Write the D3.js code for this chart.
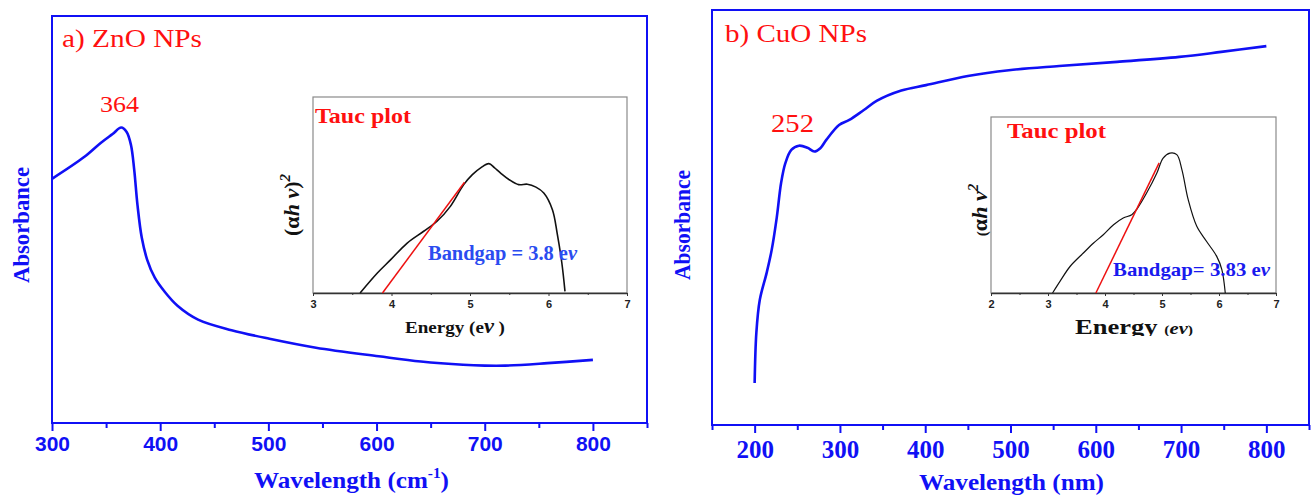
<!DOCTYPE html>
<html>
<head>
<meta charset="utf-8">
<script src="https://cdn.jsdelivr.net/npm/d3@7"></script>
<style>
  body { margin: 0; background: #fff; }
  svg { display: block; }
</style>
</head>
<body>
<div id="chart"></div>
<script>
const width = 1312, height = 499;
const serif = '"Liberation Serif", "Times New Roman", serif';
const sans = '"Liberation Sans", Arial, sans-serif';
const blue = '#1010f5', red = '#ff1010';

// panel a) ZnO : UV-vis spectrum
const znoWavelength = [300, 330, 345, 356, 364, 369, 373, 376, 379, 383, 388, 395, 404, 416, 435, 466, 501, 544, 602, 641, 680, 700, 719, 758, 800];
const znoAbsorbance = [0.600, 0.654, 0.688, 0.710, 0.726, 0.715, 0.683, 0.622, 0.536, 0.455, 0.401, 0.357, 0.323, 0.288, 0.254, 0.228, 0.207, 0.185, 0.164, 0.151, 0.143, 0.141, 0.141, 0.147, 0.155];
// panel b) CuO : UV-vis spectrum
const cuoWavelength = [200, 202, 206, 214, 220, 226, 231, 236, 243, 252, 262, 270, 277, 284, 299, 311, 328, 343, 372, 401, 450, 498, 557, 625, 698, 747, 800];
const cuoAbsorbance = [0.101, 0.222, 0.301, 0.366, 0.422, 0.501, 0.583, 0.631, 0.663, 0.673, 0.668, 0.659, 0.667, 0.687, 0.723, 0.735, 0.759, 0.781, 0.806, 0.819, 0.841, 0.855, 0.865, 0.875, 0.887, 0.899, 0.913];

// Tauc plot insets
const znoEnergy = [3.60, 3.82, 3.99, 4.20, 4.41, 4.58, 4.75, 4.92, 5.03, 5.14, 5.24, 5.31, 5.39, 5.50, 5.62, 5.73, 5.84, 5.94, 6.05, 6.11, 6.17, 6.21];
const znoTauc = [0.0, 0.102, 0.170, 0.255, 0.315, 0.366, 0.442, 0.553, 0.604, 0.640, 0.660, 0.640, 0.612, 0.578, 0.553, 0.555, 0.540, 0.510, 0.425, 0.306, 0.153, 0.008];
const znoFitEnergy = [3.885, 4.93];
const znoFitTauc = [0.0, 0.565];

const cuoEnergy = [3.08, 3.21, 3.39, 3.62, 3.80, 3.97, 4.15, 4.32, 4.47, 4.56, 4.73, 4.91, 5.02, 5.14, 5.26, 5.35, 5.46, 5.61, 5.78, 5.96, 6.05, 6.11];
const cuoTauc = [0.0, 0.066, 0.152, 0.227, 0.284, 0.331, 0.388, 0.426, 0.445, 0.477, 0.568, 0.682, 0.767, 0.795, 0.786, 0.700, 0.530, 0.379, 0.294, 0.208, 0.133, 0.0];
const cuoFitEnergy = [3.84, 4.95];
const cuoFitTauc = [0.0, 0.739];

const znoTicks = [300, 400, 500, 600, 700, 800];
const znoMinor = [350, 450, 550, 650, 750, 850];
const cuoTicks = [200, 300, 400, 500, 600, 700, 800];
const cuoMinor = [150, 250, 350, 450, 550, 650, 750, 850];

var svg = d3.select('#chart').append('svg')
  .attr('width', width)
  .attr('height', height);

// stretched text, the figure was scaled wider than tall
function fitText(parent, str, x, y, w, size, color, family, weight) {
  return parent.append('text')
    .attr('x', x).attr('y', y)
    .attr('textLength', w).attr('lengthAdjust', 'spacingAndGlyphs')
    .style('font-family', family || serif)
    .style('font-size', size + 'px')
    .style('font-weight', weight || 'normal')
    .style('fill', color)
    .text(str);
}

function panel(cfg) {
  var x = d3.scaleLinear().domain(cfg.xDomain).range([cfg.left, cfg.right]);
  var y = d3.scaleLinear().domain([0, 1]).range([cfg.bottom, cfg.top]);
  var g = svg.append('g');

  g.append('rect')
    .attr('x', cfg.left).attr('y', cfg.top)
    .attr('width', cfg.right - cfg.left).attr('height', cfg.bottom - cfg.top)
    .style('fill', 'none').style('stroke', blue).style('stroke-width', 2);

  var major = g.append('g').attr('transform', `translate(0,${cfg.bottom})`)
    .call(d3.axisBottom(x).tickValues(cfg.ticks).tickSize(8).tickSizeOuter(0).tickPadding(cfg.pad));
  major.select('.domain').remove();
  major.selectAll('line').style('stroke', blue).style('stroke-width', 2);
  major.selectAll('text')
    .style('font-family', cfg.tickFont).style('font-weight', 'bold')
    .style('font-size', cfg.tickSize + 'px').style('fill', blue);

  var minor = g.append('g').attr('transform', `translate(0,${cfg.bottom})`)
    .call(d3.axisBottom(x).tickValues(cfg.minor).tickSize(5).tickSizeOuter(0).tickFormat(''));
  minor.select('.domain').remove();
  minor.selectAll('line').style('stroke', blue).style('stroke-width', 2);

  var line = d3.line()
    .x((d, i) => x(cfg.wl[i]))
    .y(d => y(d))
    .curve(d3.curveCatmullRom.alpha(0.5));
  g.append('path').datum(cfg.abs)
    .attr('d', line)
    .style('fill', 'none').style('stroke', blue).style('stroke-width', 2.6)
    .style('stroke-linejoin', 'round');

  g.append('text')
    .attr('transform', `translate(${cfg.absX},${cfg.absY}) rotate(-90)`)
    .attr('text-anchor', 'middle')
    .attr('textLength', cfg.absLen).attr('lengthAdjust', 'spacingAndGlyphs')
    .style('font-family', serif).style('font-weight', 'bold')
    .style('font-size', '24px').style('fill', blue)
    .text('Absorbance');
  return g;
}

function inset(cfg) {
  var x = d3.scaleLinear().domain(cfg.xDomain).range([cfg.left, cfg.right]);
  var y = d3.scaleLinear().domain([0, 1]).range([cfg.bottom, cfg.top]);
  var g = svg.append('g');

  g.append('rect')
    .attr('x', cfg.left).attr('y', cfg.top)
    .attr('width', cfg.right - cfg.left).attr('height', cfg.bottom - cfg.top)
    .style('fill', 'none').style('stroke', '#8a8a8a').style('stroke-width', 1.2);

  var ax = g.append('g').attr('transform', `translate(0,${cfg.bottom})`)
    .call(d3.axisBottom(x).ticks(cfg.xDomain[1] - cfg.xDomain[0]).tickSize(3).tickSizeOuter(0).tickPadding(4));
  ax.select('.domain').style('stroke', '#333').style('stroke-width', 1.4);
  ax.selectAll('line').style('stroke', '#333');
  ax.selectAll('text')
    .style('font-family', sans).style('font-weight', 'bold')
    .style('font-size', '11px').style('fill', '#222');
  var halves = d3.range(cfg.xDomain[0] + 0.5, cfg.xDomain[1], 1);
  var mn = g.append('g').attr('transform', `translate(0,${cfg.bottom})`)
    .call(d3.axisBottom(x).tickValues(halves).tickSize(2).tickSizeOuter(0).tickFormat(''));
  mn.select('.domain').remove();
  mn.selectAll('line').style('stroke', '#333');

  var line = d3.line()
    .x((d, i) => x(cfg.energy[i]))
    .y(d => y(d))
    .curve(d3.curveCatmullRom.alpha(0.5));
  g.append('path').datum(cfg.tauc)
    .attr('d', line)
    .style('fill', 'none').style('stroke', '#111').style('stroke-width', cfg.lw);

  var fit = d3.line().x((d, i) => x(cfg.fitE[i])).y(d => y(d));
  g.append('path').datum(cfg.fitT)
    .attr('d', fit)
    .style('fill', 'none').style('stroke', '#ee1111').style('stroke-width', 1.5);
  return g;
}

// ---------- panel a ----------
panel({
  xDomain: [300, 850], left: 52, right: 647, top: 16, bottom: 423,
  ticks: znoTicks, minor: znoMinor, tickFont: sans, tickSize: 21, pad: 5,
  wl: znoWavelength, abs: znoAbsorbance,
  absX: 29, absY: 225, absLen: 116
});
fitText(svg, 'a) ZnO NPs', 62, 47, 140, 25, red);
fitText(svg, '364', 100, 112, 39, 23, red);

var tA = fitText(svg, 'Wavelength (cm', 254, 488, 0, 23, blue, serif, 'bold').attr('textLength', null);
tA.append('tspan').attr('dy', -10).style('font-size', '14px').text('-1');
tA.append('tspan').attr('dy', 10).text(')');
tA.attr('textLength', 195);

inset({
  xDomain: [3, 7], left: 313, right: 627, top: 97, bottom: 293,
  energy: znoEnergy, tauc: znoTauc, fitE: znoFitEnergy, fitT: znoFitTauc, lw: 1.6
});
fitText(svg, 'Tauc plot', 315, 123, 96, 21, red, serif, 'bold');
var bgA = fitText(svg, 'Bandgap = 3.8 e', 428, 260, 0, 20, '#2b4cf0', serif, 'bold').attr('textLength', null);
bgA.append('tspan').style('font-style', 'italic').text('ν');
bgA.attr('textLength', 149);
var enA = fitText(svg, 'Energy (e', 405, 333, 0, 17, '#111', serif, 'bold').attr('textLength', null);
enA.append('tspan').style('font-style', 'italic').style('font-size', '20px').text('ν');
enA.append('tspan').text(' )');
enA.attr('textLength', 100);

var ylA = svg.append('text')
  .attr('transform', 'translate(299,205) rotate(-90)')
  .attr('text-anchor', 'middle')
  .style('font-family', serif).style('font-weight', 'bold')
  .style('font-size', '22px').style('fill', '#111');
ylA.append('tspan').text('(α');
ylA.append('tspan').style('font-style', 'italic').text('h ν');
ylA.append('tspan').text(')');
ylA.append('tspan').attr('dy', -9).style('font-style', 'italic').style('font-size', '15px').text('2');

// ---------- panel b ----------
panel({
  xDomain: [150, 850], left: 712, right: 1309, top: 10, bottom: 425,
  ticks: cuoTicks, minor: cuoMinor, tickFont: serif, tickSize: 25, pad: 7,
  wl: cuoWavelength, abs: cuoAbsorbance,
  absX: 690, absY: 225, absLen: 110
});
fitText(svg, 'b) CuO NPs', 725, 42, 142, 25, red);
fitText(svg, '252', 771, 132, 43, 25, red);
fitText(svg, 'Wavelength (nm)', 919, 490, 185, 23, blue, serif, 'bold');

inset({
  xDomain: [2, 7], left: 991, right: 1276, top: 117, bottom: 293,
  energy: cuoEnergy, tauc: cuoTauc, fitE: cuoFitEnergy, fitT: cuoFitTauc, lw: 1.2
});
fitText(svg, 'Tauc plot', 1007, 138, 99, 21, red, serif, 'bold');
var bgB = fitText(svg, 'Bandgap= 3.83 e', 1113, 276, 0, 19, '#1a1aee', serif, 'bold').attr('textLength', null);
bgB.append('tspan').style('font-style', 'italic').text('ν');
bgB.attr('textLength', 157);

svg.append('clipPath').attr('id', 'enclip')
  .append('rect').attr('x', 1060).attr('y', 300).attr('width', 150).attr('height', 36);
var enB = fitText(svg, 'Energy ', 1075, 334, 0, 22, '#111', serif, 'bold')
  .attr('textLength', null).attr('clip-path', 'url(#enclip)');
enB.append('tspan').style('font-size', '13px').text('(');
enB.append('tspan').style('font-size', '17px').style('font-style', 'italic').text('eν');
enB.append('tspan').style('font-size', '13px').text(')');
enB.attr('textLength', 118);

var ylB = svg.append('text')
  .attr('transform', 'translate(987,210) rotate(-90)')
  .attr('text-anchor', 'middle')
  .style('font-family', serif).style('font-weight', 'bold')
  .style('font-size', '22px').style('fill', '#111');
ylB.append('tspan').style('font-size', '15px').text('(');
ylB.append('tspan').text('α');
ylB.append('tspan').style('font-style', 'italic').text('h ν');
ylB.append('tspan').attr('dy', -9).style('font-style', 'italic').style('font-size', '15px').text('2');
</script>
</body>
</html>
